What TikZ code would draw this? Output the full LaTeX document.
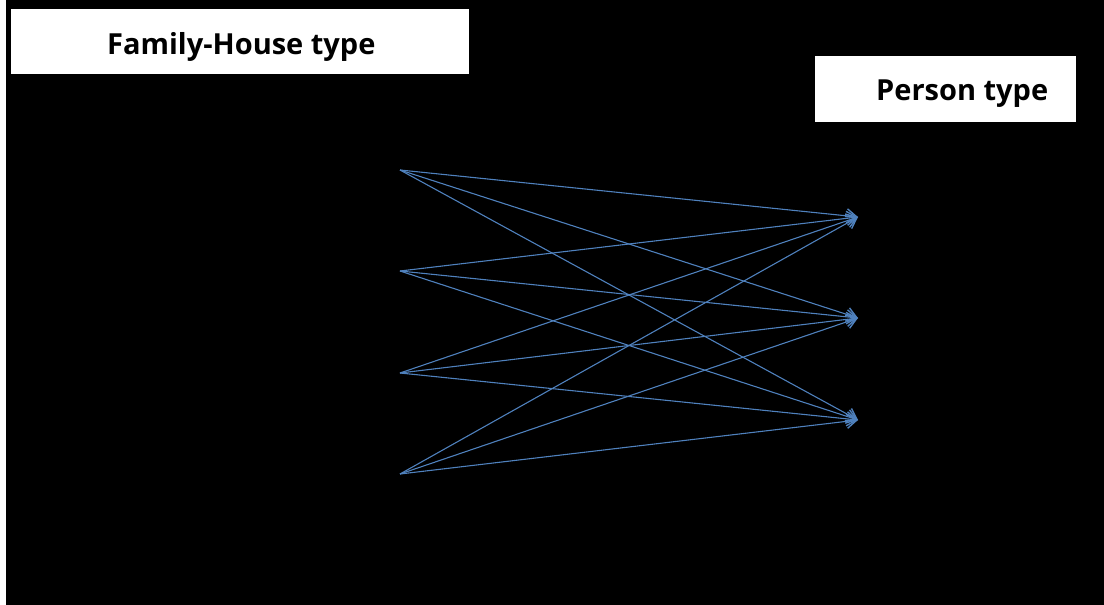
\documentclass[tikz,border=0pt]{standalone}
\usepackage{fontspec}
\setmainfont{Open Sans}
\usetikzlibrary{arrows.meta,positioning}

\definecolor{linkblue}{RGB}{79,129,189}

\begin{document}
\begin{tikzpicture}[x=1pt,y=-1pt,
  typebox/.style={fill=white,draw=none,inner sep=0pt},
  typetext/.style={anchor=base west,inner sep=0pt,font=\bfseries\fontsize{29}{34}\selectfont},
  link/.style={draw=linkblue,line width=1.1pt,-{Straight Barb[length=10pt,width=14pt,line width=1.4pt]}}]

%Page and background
\useasboundingbox (0,0) rectangle (1104,605);
\fill[white] (0,0) rectangle (1104,605);
\fill[black] (6,0) rectangle (1104,605);

%Type boxes
\node[typebox,minimum width=458pt,minimum height=65pt] (family) at (240,41.5) {};
\node[typetext] (familylabel) at (107,54.5) {Family-House type};
\node[typebox,minimum width=261pt,minimum height=66pt] (person) at (945.5,89) {};
\node[typetext] (personlabel) at (876,100) {Person type};

%Marking coordinates
\coordinate (L1) at (400,170);
\coordinate (L2) at (400,271);
\coordinate (L3) at (400,373);
\coordinate (L4) at (400,474);
\coordinate (R1) at (858,217);
\coordinate (R2) at (858,318);
\coordinate (R3) at (858,420);

%Drawing links
\foreach \l in {L1,L2,L3,L4}
  \foreach \r in {R1,R2,R3}
    \draw[link] (\l) -- (\r);

\end{tikzpicture}
\end{document}
